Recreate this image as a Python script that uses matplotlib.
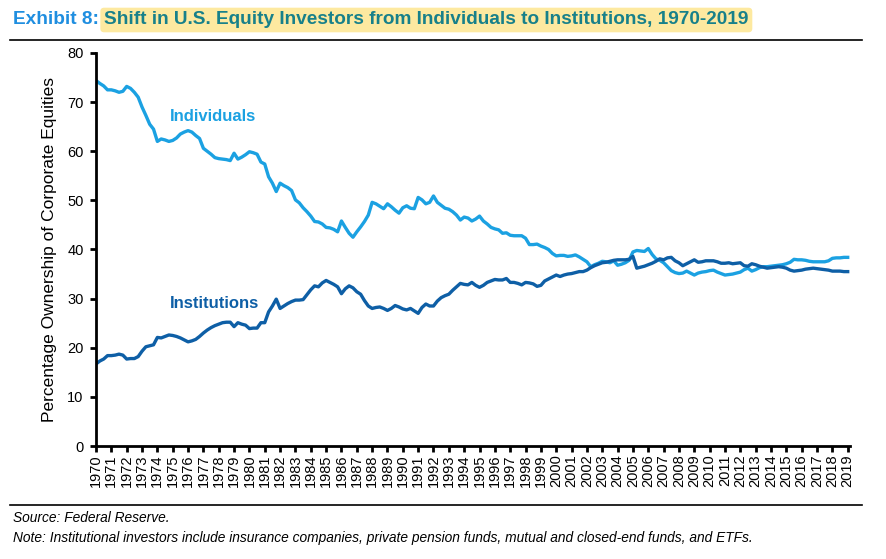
import numpy as np
import matplotlib
matplotlib.use('Agg')
import matplotlib.pyplot as plt
from matplotlib.lines import Line2D

# quarterly data, 1970Q1 .. 2019Q1
individuals = [
    74.4, 73.8, 73.3, 72.5,  72.5, 72.3, 72.0, 72.2,  73.2, 72.8, 72.0, 71.0,
    69.0, 67.3, 65.5, 64.5,  62.0, 62.5, 62.3, 62.0,  62.2, 62.7, 63.5, 63.9,
    64.2, 63.9, 63.2, 62.6,  60.6, 60.0, 59.4, 58.7,  58.5, 58.4, 58.3, 58.1,
    59.6, 58.4, 58.8, 59.3,  59.9, 59.7, 59.4, 57.8,  57.4, 54.8, 53.5, 51.8,
    53.5, 53.0, 52.6, 52.0,  50.1, 49.5, 48.5, 47.7,  46.8, 45.7, 45.6, 45.2,
    44.5, 44.4, 44.1, 43.6,  45.8, 44.5, 43.3, 42.5,  43.6, 44.6, 45.7, 47.0,
    49.6, 49.3, 48.8, 48.3,  49.3, 48.7, 48.0, 47.4,  48.5, 48.9, 48.4, 48.3,
    50.6, 50.1, 49.3, 49.6,  50.9, 49.6, 49.0, 48.4,  48.2, 47.7, 47.0, 46.0,
    46.6, 46.4, 45.8, 46.2,  46.8, 45.8, 45.2, 44.5,  44.2, 44.0, 43.3, 43.4,
    42.9, 42.8, 42.8, 42.8,  42.3, 41.0, 41.0, 41.1,  40.7, 40.4, 40.0, 39.2,
    38.7, 38.8, 38.8, 38.6,  38.7, 38.9, 38.5, 38.0,  37.5, 36.5, 36.9, 37.2,
    37.6, 37.5, 37.3, 37.7,  36.8, 37.0, 37.3, 37.8,  39.5, 39.8, 39.7, 39.6,
    40.2, 39.0, 38.1, 37.8,  37.3, 36.5, 35.7, 35.3,  35.1, 35.2, 35.6, 35.2,
    34.8, 35.2, 35.4, 35.5,  35.7, 35.8, 35.4, 35.1,  34.8, 34.9, 35.0, 35.2,
    35.4, 35.9, 36.2, 35.6,  35.9, 36.3, 36.5, 36.5,  36.6, 36.7, 36.8, 36.9,
    37.1, 37.4, 38.0, 37.9,  37.9, 37.8, 37.6, 37.5,  37.5, 37.5, 37.5, 37.7,
    38.2, 38.3, 38.3, 38.4,  38.4]

institutions = [
    16.7, 17.3, 17.7, 18.4,  18.4, 18.5, 18.7, 18.5,  17.7, 17.8, 17.8, 18.2,
    19.3, 20.2, 20.4, 20.6,  22.1, 22.0, 22.3, 22.6,  22.5, 22.3, 22.0, 21.6,
    21.2, 21.4, 21.7, 22.3,  23.0, 23.6, 24.1, 24.5,  24.8, 25.1, 25.2, 25.2,
    24.3, 25.1, 24.8, 24.6,  23.9, 24.0, 24.0, 25.1,  25.1, 27.3, 28.5, 29.9,
    28.0, 28.5, 29.0, 29.4,  29.7, 29.7, 29.8, 30.8,  31.8, 32.6, 32.4, 33.2,
    33.7, 33.3, 32.9, 32.4,  31.0, 32.0, 32.6, 32.2,  31.4, 30.9, 29.6, 28.5,
    28.0, 28.2, 28.3, 28.0,  27.6, 28.0, 28.6, 28.3,  27.9, 27.7, 28.0, 27.5,
    27.0, 28.2, 28.9, 28.5,  28.5, 29.5, 30.2, 30.6,  30.9, 31.7, 32.4, 33.1,
    32.9, 32.8, 33.3, 32.7,  32.3, 32.7, 33.3, 33.6,  33.9, 33.8, 33.8, 34.1,
    33.3, 33.3, 33.1, 32.8,  33.3, 33.2, 33.0, 32.5,  32.7, 33.6, 34.0, 34.4,
    34.8, 34.5, 34.8, 35.0,  35.1, 35.3, 35.5, 35.5,  35.8, 36.3, 36.7, 37.0,
    37.3, 37.4, 37.6, 37.8,  37.9, 37.9, 37.9, 38.0,  38.6, 36.2, 36.4, 36.6,
    36.9, 37.2, 37.6, 38.1,  37.9, 38.3, 38.4, 37.7,  37.3, 36.7, 37.1, 37.5,
    37.9, 37.4, 37.5, 37.7,  37.7, 37.7, 37.5, 37.2,  37.2, 37.3, 37.1, 37.2,
    37.3, 36.7, 36.6, 37.1,  36.9, 36.6, 36.4, 36.2,  36.3, 36.4, 36.5, 36.4,
    36.2, 35.8, 35.6, 35.7,  35.8, 36.0, 36.1, 36.2,  36.1, 36.0, 35.9, 35.8,
    35.6, 35.6, 35.6, 35.5,  35.5]

years = list(range(1970, 2020))
quarters = 1970 + np.arange(len(individuals)) / 4.0

c_ind = '#1ba1e2'
c_inst = '#0e5fa6'

plt.rcParams['font.family'] = ['Liberation Sans', 'DejaVu Sans']

fig = plt.figure(figsize=(8.86, 5.59), dpi=100)
ax = fig.add_axes([96/886, 1-446/559, (850-96)/886, (446-53)/559])

ax.plot(quarters, individuals, color=c_ind, lw=2.4, solid_joinstyle='round')
ax.plot(quarters, institutions, color=c_inst, lw=2.4, solid_joinstyle='round')

ax.set_xlim(1970, 2019.15)
ax.set_ylim(0, 80)
ax.set_yticks(range(0, 81, 10))
ax.set_xticks(years)
ax.set_xticklabels([str(y) for y in years], rotation=90, fontsize=10.5)
ax.tick_params(axis='y', labelsize=10.5, width=2, length=4, pad=5)
ax.tick_params(axis='x', width=2, length=4, pad=2)
for s in ['top', 'right']:
    ax.spines[s].set_visible(False)
for s in ['left', 'bottom']:
    ax.spines[s].set_linewidth(2)

ax.set_ylabel('Percentage Ownership of Corporate Equities', fontsize=12.5, labelpad=7)

ax.text(1974.8, 67, 'Individuals', color=c_ind, fontsize=12, fontweight='bold', va='center')
ax.text(1974.8, 29, 'Institutions', color=c_inst, fontsize=12, fontweight='bold', va='center')

# title
t1 = fig.text(13/886, 1-20/559, 'Exhibit 8: ', color='#1f8ee0', fontsize=13.7,
              fontweight='bold', va='center')
fig.canvas.draw()
bb = t1.get_window_extent()
x2 = bb.x1 / fig.bbox.width
fig.text(x2, 1-20/559, 'Shift in U.S. Equity Investors from Individuals to Institutions, 1970-2019',
         color='#17808a', fontsize=13.7, fontweight='bold', va='center',
         bbox=dict(boxstyle='round,pad=0.2', facecolor='#fde9a0', edgecolor='none'))

fig.add_artist(Line2D([10/886, 862/886], [1-40/559, 1-40/559], transform=fig.transFigure,
                      color='black', lw=1.2))
fig.add_artist(Line2D([10/886, 862/886], [1-505/559, 1-505/559], transform=fig.transFigure,
                      color='black', lw=1.2))

fig.text(13/886, 1-518/559, 'Source: Federal Reserve.', fontsize=9.9, style='italic',
         va='center')
fig.text(13/886, 1-538/559,
         'Note: Institutional investors include insurance companies, private pension funds, '
         'mutual and closed-end funds, and ETFs.',
         fontsize=9.9, style='italic', va='center')

fig.savefig('out.png', dpi=100)
